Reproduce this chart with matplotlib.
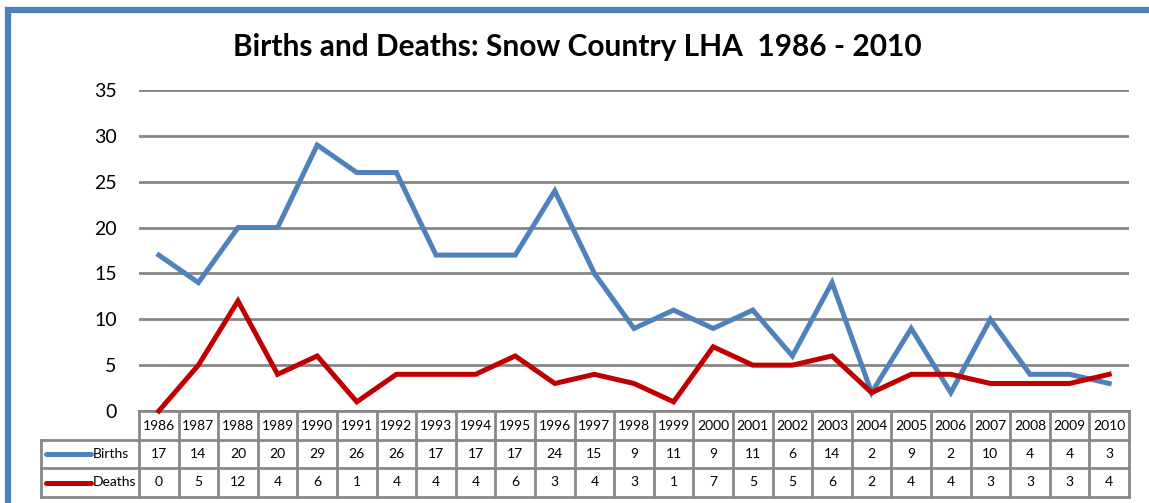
import matplotlib.pyplot as plt
import numpy as np
from matplotlib.patches import Rectangle

years = [str(y) for y in range(1986, 2011)]
births = [17, 14, 20, 20, 29, 26, 26, 17, 17, 17, 24, 15, 9, 11, 9, 11, 6, 14, 2, 9, 2, 10, 4, 4, 3]
deaths = [0, 5, 12, 4, 6, 1, 4, 4, 4, 6, 3, 4, 3, 1, 7, 5, 5, 6, 2, 4, 4, 3, 3, 3, 4]
series = [("Births", births, "#4F81BD"), ("Deaths", deaths, "#C00000")]

plt.rcParams["font.family"] = ["Lato", "DejaVu Sans"]

W, H = 1149, 503
fig = plt.figure(figsize=(W / 100, H / 100), dpi=100)

# blue frame (right/bottom edges fall outside the image)
fig.patches.append(Rectangle((8 / W, -0.05), 1.1, 1 - 10 / H + 0.05, transform=fig.transFigure,
                             fill=False, edgecolor="#4F81BD", lw=4.5))

ax = fig.add_axes([139 / W, (H - 411) / H, 990 / W, 321 / H])
x = np.arange(len(years))
for name, vals, col in series:
    ax.plot(x, vals, color=col, lw=3.6, solid_joinstyle="miter", zorder=3, clip_on=False)

ax.set_xlim(-0.5, len(years) - 0.5)
ax.set_ylim(0, 35)
ax.set_yticks(range(0, 36, 5))
ax.yaxis.grid(True, color="#868686", lw=2)
ax.set_axisbelow(True)
for s in ax.spines.values():
    s.set_visible(False)
ax.tick_params(axis="y", length=0, labelsize=14, pad=16)
ax.tick_params(axis="x", bottom=False, labelbottom=False)

fig.text(577 / W, 1 - 47 / H, "Births and Deaths: Snow Country LHA  1986 - 2010",
         ha="center", va="center", fontsize=21.5, fontweight="bold")

# data table under the plot
tr = ax.get_xaxis_transform()
rows = [0, -29 / 321, -57 / 321, -86 / 321]
lab_left = -0.5 - 98 * len(years) / 990
grid_kw = dict(color="#888888", lw=2, transform=tr, clip_on=False, solid_capstyle="projecting")
right = len(years) - 0.5
ax.plot([-0.5, right], [rows[0]] * 2, **grid_kw)
for yv in rows[1:]:
    ax.plot([lab_left, right], [yv] * 2, **grid_kw)
ax.plot([lab_left, lab_left], [rows[1], rows[3]], **grid_kw)
for i in range(len(years) + 1):
    ax.plot([i - 0.5, i - 0.5], [rows[0], rows[3]], **grid_kw)

for i, yr in enumerate(years):
    ax.text(i, (rows[0] + rows[1]) / 2, yr, transform=tr, ha="center", va="center", fontsize=10)
    for r, (name, vals, col) in enumerate(series):
        ax.text(i, (rows[r + 1] + rows[r + 2]) / 2, str(vals[i]), transform=tr,
                ha="center", va="center", fontsize=10)

unit = len(years) / 990
for r, (name, vals, col) in enumerate(series):
    ym = (rows[r + 1] + rows[r + 2]) / 2
    ax.plot([lab_left + 5 * unit, lab_left + 50 * unit], [ym, ym], color=col, lw=3.6,
            transform=tr, clip_on=False, solid_capstyle="round")
    ax.text(lab_left + 52 * unit, ym, name, transform=tr, ha="left", va="center", fontsize=10)

fig.savefig("out.png", dpi=100)
